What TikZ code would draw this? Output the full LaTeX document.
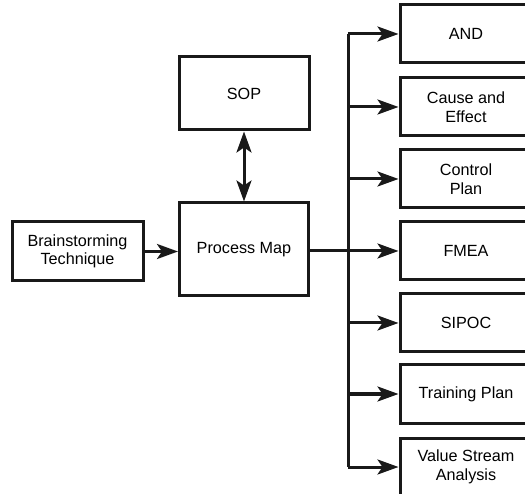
\documentclass[tikz,border=0pt]{standalone}
\usepackage{fontspec}
\setmainfont{Liberation Sans}
\usetikzlibrary{arrows.meta}
\begin{document}
\begin{tikzpicture}[x=1pt,y=-1pt,
  box/.style={draw=black!90,line width=3pt,minimum width=#1,align=center,
    font=\fontsize{16.2}{18.5}\selectfont,inner sep=0pt},
  link/.style={draw=black!90,line width=3pt,-{Stealth[length=21pt,width=15pt,inset=5pt]}},
  trunk/.style={draw=black!90,line width=3pt}]
\useasboundingbox (0,0) rectangle (525,494);
% left part
\node[box=131pt,minimum height=59pt] (brain) at (77.5,251.5) {Brainstorming\\Technique};
\node[box=129pt,minimum height=93pt] (pmap) at (244,249.5) {Process Map};
\node[box=130pt,minimum height=73pt] (sop) at (244,93.5) {SOP};
% right column of tools (cut by the right edge)
\foreach \n/\y/\t in {and/34/AND, ce/107/{Cause and\\Effect}, cp/179/{Control\\Plan},
  fmea/251/FMEA, sipoc/323/SIPOC, tp/394/Training Plan, vsa/467/{Value Stream\\Analysis}}{
  \node[box=132pt,minimum height=58pt] (\n) at (466,\y) {\t};
}
\coordinate (jt) at (348,34);
\coordinate (jb) at (348,467);
\coordinate (jm) at (348,251);
% connectors
\draw[link] (brain.east) -- (pmap.west |- brain.east);
\draw[link,{Stealth[length=21pt,width=15pt,inset=5pt]}-{Stealth[length=21pt,width=15pt,inset=5pt]}] (sop.south) -- (pmap.north);
\draw[trunk] (pmap.east |- jm) -- (jm);
\draw[trunk] (jt) -- (jb);
\foreach \n in {and,ce,cp,fmea,sipoc,tp,vsa}{
  \draw[link] (jt |- \n.west) -- (\n.west);
}
\end{tikzpicture}
\end{document}
